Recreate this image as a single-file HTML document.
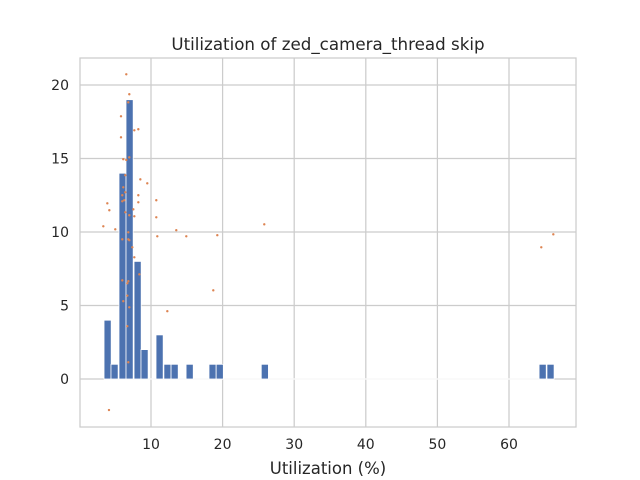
<!DOCTYPE html>
<html><head><meta charset="utf-8"><style>
body{margin:0;background:#fff;}
svg{display:block;font-family:"DejaVu Sans","Liberation Sans",sans-serif;}
</style></head><body>
<svg id="chart" width="640" height="480">
<rect x="0" y="0" width="640" height="480" fill="#fff"/>
<g id="grid"></g>
<g id="bars"></g>
<g id="points"></g>
<rect x="80" y="58" width="496" height="369" fill="none" stroke="#cccccc" stroke-width="1.25"/>
<g id="ticks"></g>
<text x="328" y="50" text-anchor="middle" font-size="16.7" fill="#262626">Utilization of zed_camera_thread skip</text>
<text x="328" y="474" text-anchor="middle" font-size="16.5" fill="#262626">Utilization (%)</text>
</svg>
<script>
const binLefts=[3.44,4.41,5.53,6.51,7.63,8.6,10.7,11.8,12.8,14.9,18.1,19.1,25.4,64.2,65.3];
const binCounts=[4,1,14,19,8,2,3,1,1,1,1,1,1,1,1];
const binWidth=1.0;
const pointX=[6.55,6.97,6.83,5.81,5.81,7.67,8.23,6.13,6.55,6.97,6.41,8.51,9.48,6.13,6.41,5.99,8.23,5.99,6.27,8.23,10.74,3.9,4.18,6.41,7.53,6.97,7.67,10.74,3.34,5.01,6.83,5.99,6.83,6.97,10.88,13.53,14.93,19.26,25.82,7.39,7.67,8.37,5.99,6.83,6.69,18.7,6.69,6.13,6.97,12.28,6.69,6.83,4.13,66.19,64.51];
const pointY=[20.73,19.37,18.82,17.87,16.44,16.92,16.99,14.95,14.9,15.08,13.86,13.58,13.31,13.04,12.7,12.5,12.5,12.09,12.16,12.02,12.16,11.95,11.48,11.34,11.54,11.14,11.07,11.0,10.39,10.18,9.98,9.5,9.5,9.44,9.71,10.12,9.71,9.78,10.52,8.96,8.28,7.12,6.71,6.65,6.51,6.03,5.67,5.29,4.88,4.61,3.59,1.14,-2.11,9.84,8.96];
const xTicks=[10,20,30,40,50,60];
const yTicks=[0,5,10,15,20];

const NS="http://www.w3.org/2000/svg";
const X=v=>79.4+v*7.16;
const Y=v=>379-v*14.7;
function mk(tag,attrs,parent){const e=document.createElementNS(NS,tag);for(const k in attrs)e.setAttribute(k,attrs[k]);parent.appendChild(e);return e;}
const grid=document.getElementById('grid'),ticks=document.getElementById('ticks');
xTicks.forEach(t=>{
  const l=mk('line',{x1:X(t),x2:X(t),y1:58,y2:427,stroke:'#cccccc','stroke-width':1.25},grid);
  
  
  const tx=mk('text',{x:X(t),y:449,'text-anchor':'middle','font-size':14,fill:'#262626'},ticks);
  tx.textContent=t;
  
  
});
yTicks.forEach(t=>{
  const l=mk('line',{x1:80,x2:576,y1:Y(t),y2:Y(t),stroke:'#cccccc','stroke-width':1.25},grid);
  
  
  const tx=mk('text',{x:69,y:Y(t)+5,'text-anchor':'end','font-size':14,fill:'#262626'},ticks);
  tx.textContent=t;
  
  
});
const bars=document.getElementById('bars');
const bl=mk('line',{x1:X(binLefts[0]),x2:X(binLefts[binLefts.length-1]+binWidth),y1:Y(0),y2:Y(0),stroke:'#fff','stroke-width':1.2},bars);


binLefts.forEach((b,i)=>{
  const x0=X(b),x1=X(b+binWidth);
  const r=mk('rect',{x:x0,y:Y(binCounts[i]),width:x1-x0,height:Y(0)-Y(binCounts[i]),fill:'#4c72b0',stroke:'#fff','stroke-width':0.8},bars);
  
  
});
const pts=document.getElementById('points');
pointX.forEach((x,i)=>{
  const c=mk('circle',{cx:X(x),cy:Y(pointY[i]),r:1.2,fill:'#dd8452'},pts);
  
  
});
</script>
</body></html>
